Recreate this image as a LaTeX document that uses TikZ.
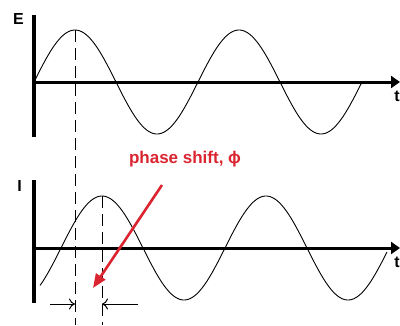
\documentclass[tikz,border=0pt]{standalone}
\usepackage{fontspec}
\setmainfont{Liberation Sans}
\usetikzlibrary{arrows.meta}
\definecolor{PSRed}{HTML}{DA2530}
\tikzset{
  axisline/.style={line width=3pt},
  waveline/.style={line width=0.9pt},
  guideline/.style={line width=0.8pt,dash pattern=on 12pt off 6pt},
  dimline/.style={line width=1pt,-{To[length=6pt,width=11pt]}},
  axislabel/.style={font=\fontsize{16}{18}\selectfont\bfseries,inner sep=0pt}
}
\begin{document}
\begin{tikzpicture}[x=1pt,y=-1pt]
\path[use as bounding box] (0,0) rectangle (400,325);
% voltage
\coordinate (Etop) at (34,15);
\coordinate (Ebot) at (34,137);
\coordinate (Eleft) at (34,82);
\coordinate (Eend) at (400,82);
\draw[axisline,line width=4pt] (Etop) -- (Ebot);
\draw[axisline,-{Triangle[length=9pt,width=12pt]}] (Eleft) -- (Eend);
\node[axislabel,anchor=east] (lblE) at (24,19) {E};
\node[axislabel,anchor=north east] (lblTa) at (400,91) {t};
\draw[waveline] plot[domain=34:362,samples=200] (\x,{82-52*sin((\x-34)/164*360)});
% current
\coordinate (Itop) at (34,180);
\coordinate (Ibot) at (34,303);
\coordinate (Ileft) at (34,248);
\coordinate (Iend) at (400,248);
\draw[axisline,line width=4pt] (Itop) -- (Ibot);
\draw[axisline,-{Triangle[length=9pt,width=12pt]}] (Ileft) -- (Iend);
\node[axislabel,anchor=east] (lblI) at (22,186) {I};
\node[axislabel,anchor=north east] (lblTb) at (400,257) {t};
\draw[waveline] plot[domain=40:387,samples=200] (\x,{248-52*sin((\x-61)/164*360)});
% peaks
\coordinate (peakE) at (75,30);
\coordinate (peakEdown) at (75,325);
\coordinate (peakI) at (102,196);
\coordinate (peakIdown) at (102,325);
\draw[guideline] (peakE) -- (peakEdown);
\draw[guideline] (peakI) -- (peakIdown);
\coordinate (dimL) at (50,304);
\coordinate (dimLend) at (75,304);
\coordinate (dimR) at (138,304);
\coordinate (dimRend) at (102,304);
\draw[dimline] (dimL) -- (dimLend);
\draw[dimline] (dimR) -- (dimRend);
% label
\node[font=\fontsize{17}{19}\selectfont\bfseries,text=PSRed,inner sep=0pt] (shift) at (185,159) {phase shift, ϕ};
\coordinate (shiftfrom) at (162,185);
\coordinate (shiftto) at (93,288);
\draw[PSRed,line width=2.6pt,-{Triangle[length=14pt,width=11pt]}] (shiftfrom) -- (shiftto);
\end{tikzpicture}
\end{document}
